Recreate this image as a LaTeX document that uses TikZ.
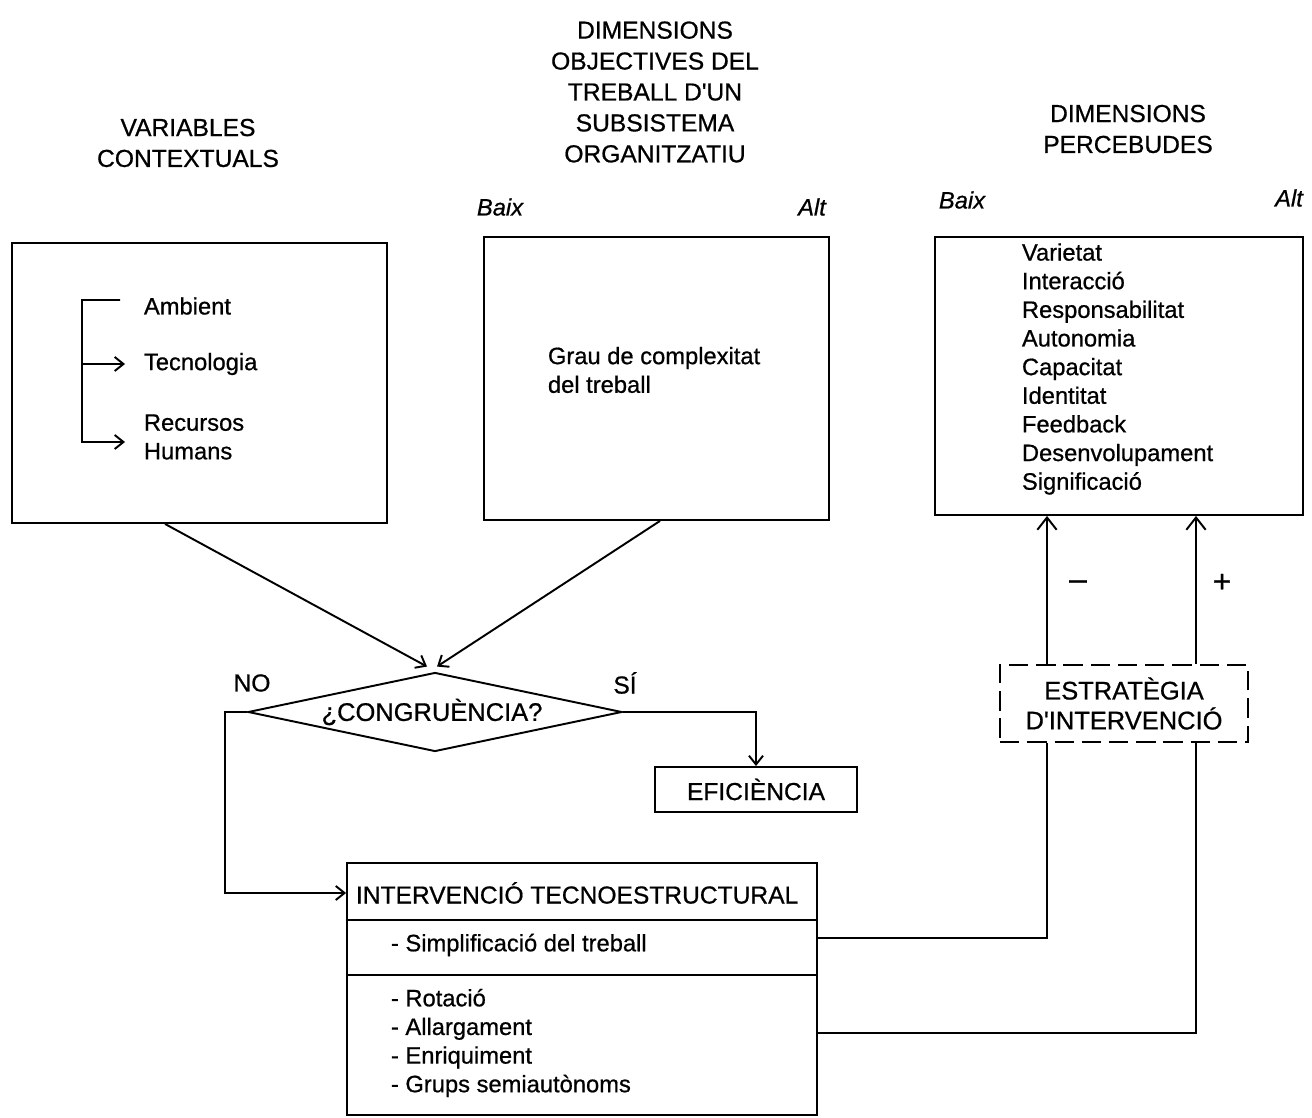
\documentclass[tikz,border=0pt]{standalone}
\usepackage{fontspec}
\setmainfont{Liberation Sans}[FakeBold=0.7]
\usetikzlibrary{arrows.meta,shapes.geometric,calc}
\newcommand\hdrfont{\fontsize{14}{17.6}\selectfont}
\newcommand\txtfont{\fontsize{13.5}{16.3}\selectfont}
\begin{document}
\begin{tikzpicture}[x=0.02cm,y=-0.02cm,
  line width=1.1pt,
  tip/.style={-{Straight Barb[length=5pt,width=8pt,line width=1.1pt]}},
  bigtip/.style={-{Straight Barb[length=7pt,width=11pt,line width=1.1pt]}},
  panel/.style={draw,rectangle,inner sep=0pt},
  hdr/.style={align=center,inner sep=0pt,font=\hdrfont},
  txt/.style={align=left,inner sep=0pt,anchor=west,font=\txtfont},
  lvl/.style={inner sep=0pt,font=\txtfont\itshape}]
\useasboundingbox (0,0) rectangle (1312,1118);

% column headings
\node[hdr] (h1) at (188,143) {VARIABLES\\CONTEXTUALS};
\node[hdr] (h2) at (655,92) {DIMENSIONS\\OBJECTIVES DEL\\TREBALL D\textquotesingle UN\\SUBSISTEMA\\ORGANITZATIU};
\node[hdr] (h3) at (1128,129) {DIMENSIONS\\PERCEBUDES};

% low / high labels
\node[lvl] (b2) at (500,207) {Baix};
\node[lvl] (a2) at (812,207) {Alt};
\node[lvl] (b3) at (962,200) {Baix};
\node[lvl] (a3) at (1289,198) {Alt};

% three upper boxes
\node[panel,minimum width=7.5cm,minimum height=5.6cm] (box1) at (199.5,383) {};
\node[panel,minimum width=6.9cm,minimum height=5.66cm] (box2) at (656.5,378.5) {};
\node[panel,minimum width=7.36cm,minimum height=5.56cm] (box3) at (1119,376) {};

% contextual variables with bracket
\node[txt] (amb) at (143,306) {Ambient};
\node[txt] (tec) at (143,364) {Tecnologia};
\node[txt] (rec) at (143,437) {Recursos\\Humans};
\coordinate (bk) at (82,442);
\draw[tip] ([xshift=-0.46cm,yshift=0.12cm]amb.west) -| (bk) -- ([xshift=-0.36cm,yshift=-0.1cm]rec.west);
\draw[tip] (bk |- tec.west) -- ([xshift=-0.36cm]tec.west);

% objective dimension
\node[txt] (grau) at (547,370) {Grau de complexitat\\del treball};

% perceived dimensions
\node[txt] (perc) at (1021,369) {Varietat\\Interacció\\Responsabilitat\\Autonomia\\Capacitat\\Identitat\\Feedback\\Desenvolupament\\Significació};

% congruence test
\node[draw,diamond,aspect=4.7,inner sep=0pt,minimum width=7.48cm,minimum height=1.58cm] (cong) at (435,712) {};
\node[inner sep=0pt,font=\fontsize{14.5}{17}\selectfont] (congt) at (432,712) {¿CONGRUÈNCIA?};
\node[inner sep=0pt,font=\hdrfont] (no) at (252,683) {NO};
\node[inner sep=0pt,font=\hdrfont] (si) at (625,683) {SÍ};

\draw[tip] ([xshift=-0.69cm]box1.south) -- ([xshift=-0.16cm,yshift=0.1cm]cong.north);
\draw[tip] ([xshift=0.07cm]box2.south) -- ([xshift=0.04cm,yshift=0.1cm]cong.north);

% efficiency
\node[panel,minimum width=4.04cm,minimum height=0.9cm,font=\hdrfont] (eff) at (756,789.5) {EFICIÈNCIA};
\draw[tip] (cong.east) -| (eff.north);

% techno-structural intervention
\node[panel,minimum width=9.4cm,minimum height=5.04cm] (ib) at (582,989) {};
\node[txt,font=\fontsize{14}{17}\selectfont] (ibt) at (355,893) {INTERVENCIÓ TECNOESTRUCTURAL};
\coordinate (d1) at (347,920);
\coordinate (d2) at (347,975);
\draw (d1) -- (d1 -| ib.east);
\draw (d2) -- (d2 -| ib.east);
\node[txt] (simp) at (390,945) {- Simplificació del treball};
\node[txt] (enr) at (390,1043) {- Rotació\\- Allargament\\- Enriquiment\\- Grups semiautònoms};
\draw[tip] (cong.west) -- ++(-0.44cm,0) |- (ib.west |- ibt.west);

% intervention strategy
\node[draw,rectangle,dash pattern=on 11pt off 4.5pt,minimum width=4.96cm,minimum height=1.54cm,inner sep=0pt,align=center,font=\fontsize{14.5}{17}\selectfont] (est) at (1124,703.5) {ESTRATÈGIA\\D\textquotesingle INTERVENCIÓ};
\coordinate (xm) at (1047,0);
\coordinate (xp) at (1196,0);
\coordinate (ys) at (0,938);
\coordinate (yr) at (0,1033);
\draw (ib.east |- ys) -| (est.south -| xm);
\draw (ib.east |- yr) -| (est.south -| xp);
\draw[bigtip] (est.north -| xm) -- (box3.south -| xm);
\draw[bigtip] (est.north -| xp) -- (box3.south -| xp);
\node[inner sep=0pt,font=\fontsize{18}{18}\selectfont] (minus) at (1078,585) {–};
\node[inner sep=0pt,font=\fontsize{18}{18}\selectfont] (plus) at (1222,583) {+};
\end{tikzpicture}
\end{document}
